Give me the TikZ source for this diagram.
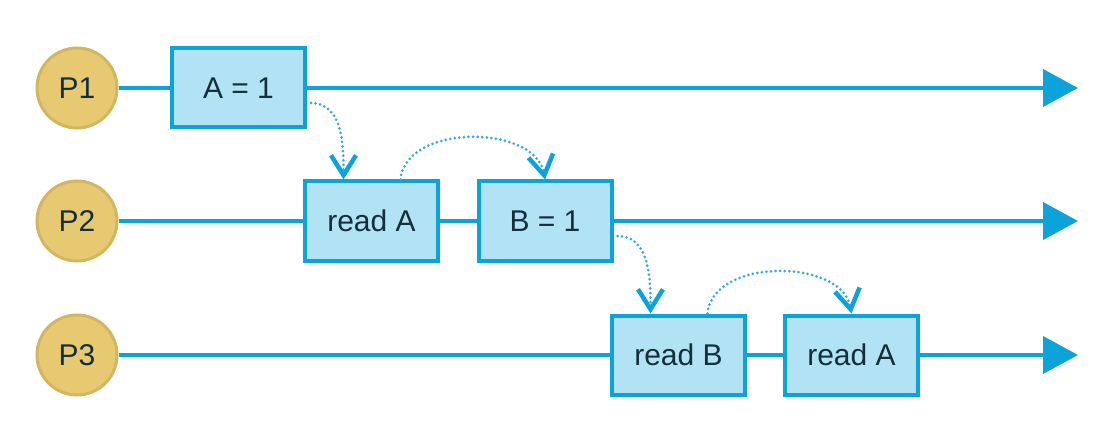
\documentclass[tikz,border=0pt]{standalone}
\usepackage{fontspec}
\setmainfont{Liberation Sans}
\usetikzlibrary{arrows.meta}
\definecolor{lineblue}{HTML}{0BA3DA}
\definecolor{dotblue}{HTML}{35A9E0}
\definecolor{boxfill}{HTML}{B2E3F4}
\definecolor{circfill}{HTML}{E7C972}
\definecolor{circdraw}{HTML}{D3B660}
\definecolor{txt}{HTML}{142E3B}
\tikzset{
  proc/.style={circle, draw=circdraw, fill=circfill, line width=3pt, minimum size=80pt, inner sep=0pt, text=txt, font=\fontsize{30}{35}\selectfont},
  opbox/.style={rectangle, draw=lineblue, fill=boxfill, line width=4pt, minimum width=133pt, minimum height=79pt, inner sep=0pt, text=txt, font=\fontsize{30}{35}\selectfont},
  tline/.style={draw=lineblue, line width=4pt},
  tarrow/.style={tline, -{Triangle[length=35pt,width=37pt]}},
  dep/.style={draw=dotblue, line width=3pt, line cap=round, dash pattern=on 0pt off 4.6pt,
    -{Straight Barb[length=20pt,width=25pt,line width=4.5pt,color=lineblue]}}
}
\begin{document}
\begin{tikzpicture}[x=1pt,y=-1pt]
\useasboundingbox (0,0) rectangle (1120,441);
% nodes
\node[proc] (p1) at (77,88) {P1};
\node[proc] (p2) at (77,221) {P2};
\node[proc] (p3) at (77,355) {P3};
\coordinate (e1) at (1078,88);
\coordinate (e2) at (1078,221);
\coordinate (e3) at (1078,355);
\node[opbox] (a1) at (238.5,88) {A = 1};
\node[opbox] (r2) at (371.5,221) {read A};
\node[opbox] (b2) at (545,221) {B = 1};
\node[opbox] (rb3) at (678.5,355) {read B};
\node[opbox] (ra3) at (851.5,355) {read A};
% timelines
\draw[tline] (p1) -- (a1);
\draw[tarrow] (a1) -- (e1);
\draw[tline] (p2) -- (r2);
\draw[tline] (r2) -- (b2);
\draw[tarrow] (b2) -- (e2);
\draw[tline] (p3) -- (rb3);
\draw[tline] (rb3) -- (ra3);
\draw[tarrow] (ra3) -- (e3);
% dependencies
\draw[dep] ([xshift=4pt,yshift=-15pt]a1.east) to[out=0,in=90] ([xshift=-28pt]r2.north);
\draw[dep] ([xshift=29pt]r2.north) to[out=85,in=100] (b2.north);
\draw[dep] ([xshift=4pt,yshift=-15pt]b2.east) to[out=0,in=90] ([xshift=-28pt]rb3.north);
\draw[dep] ([xshift=29pt]rb3.north) to[out=85,in=100] (ra3.north);
\end{tikzpicture}
\end{document}
